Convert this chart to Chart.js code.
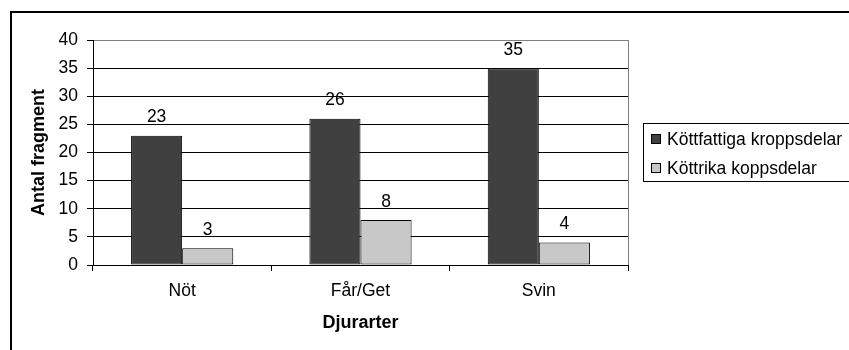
<!DOCTYPE html>
<html>
<head>
<meta charset="utf-8">
<script src="https://cdn.jsdelivr.net/npm/chart.js@4"></script>
<style>
  html, body { margin: 0; padding: 0; background: #fff; }
  #wrap { width: 849px; height: 350px; }
</style>
</head>
<body>
<div id="wrap"><canvas id="c" width="849" height="350"></canvas></div>
<script>
// Djurarter och antal fragment per kroppsdelstyp
const categories = ['Nöt', 'Får/Get', 'Svin'];
const kottfattiga = [23, 26, 35];
const kottrika = [3, 8, 4];
const seriesNames = ['Köttfattiga kroppsdelar', 'Köttrika koppsdelar'];
const yTicks = [0, 5, 10, 15, 20, 25, 30, 35, 40];
const xTitle = 'Djurarter';
const yTitle = 'Antal fragment';

const FONT = '"Liberation Sans", Arial, sans-serif';
const DARK = '#404040';
const LIGHT = '#c8c8c8';

// Outer frame, grey plot border, value labels and the boxed legend
const decorations = {
  id: 'decorations',
  beforeDraw(chart) {
    const ctx = chart.ctx;
    ctx.save();
    ctx.fillStyle = '#fff';
    ctx.fillRect(0, 0, chart.width, chart.height);
    ctx.restore();
  },
  afterDatasetsDraw(chart) {
    const ctx = chart.ctx;
    ctx.save();
    ctx.font = '17.5px ' + FONT;
    ctx.fillStyle = '#000';
    ctx.textAlign = 'center';
    ctx.textBaseline = 'alphabetic';
    chart.data.datasets.forEach((ds, i) => {
      chart.getDatasetMeta(i).data.forEach((bar, j) => {
        ctx.fillText(String(ds.data[j]), bar.x, bar.y - 13.5);
      });
    });
    ctx.restore();
  },
  afterDraw(chart) {
    const ctx = chart.ctx;
    const a = chart.chartArea;
    ctx.save();
    // outer frame
    ctx.strokeStyle = '#000';
    ctx.lineWidth = 2;
    ctx.strokeRect(11, 12, chart.width + 20, chart.height + 20);
    // right plot border
    ctx.lineWidth = 1;
    ctx.strokeStyle = '#808080';
    ctx.beginPath();
    ctx.moveTo(Math.round(a.right) + 0.5, a.top);
    ctx.lineTo(Math.round(a.right) + 0.5, a.bottom);
    ctx.stroke();
    // legend
    const lx = 643.5, ly = 123.5;
    ctx.strokeStyle = '#000';
    ctx.strokeRect(lx, ly, 220, 58);
    ctx.font = '17.5px ' + FONT;
    ctx.textAlign = 'left';
    ctx.textBaseline = 'middle';
    chart.data.datasets.forEach((ds, i) => {
      const cy = 139 + i * 29;
      ctx.fillStyle = ds.backgroundColor;
      ctx.fillRect(651, cy - 5, 10, 10);
      ctx.strokeStyle = '#000';
      ctx.strokeRect(651.5, cy - 4.5, 9, 9);
      ctx.fillStyle = '#000';
      ctx.fillText(ds.label, 667, cy + 1);
    });
    ctx.restore();
  }
};

new Chart(document.getElementById('c'), {
  type: 'bar',
  data: {
    labels: categories,
    datasets: [
      { label: seriesNames[0], data: kottfattiga, backgroundColor: DARK },
      { label: seriesNames[1], data: kottrika, backgroundColor: LIGHT }
    ]
  },
  options: {
    responsive: false,
    devicePixelRatio: 1,
    animation: false,
    layout: { padding: { left: 0, top: 40, right: 221, bottom: 0 } },
    datasets: {
      bar: {
        borderColor: '#000',
        borderWidth: 1,
        borderSkipped: false,
        categoryPercentage: 0.573,
        barPercentage: 1
      }
    },
    plugins: {
      legend: { display: false },
      tooltip: { enabled: false }
    },
    scales: {
      x: {
        afterFit(s) { s.height = 85; },
        grid: {
          offset: true,
          drawOnChartArea: false,
          color: '#000',
          tickLength: 6
        },
        border: { display: true, color: '#000', width: 1 },
        ticks: {
          color: '#000',
          font: { family: FONT, size: 17.5 },
          padding: 10,
          maxRotation: 0
        },
        title: {
          display: true,
          text: xTitle,
          color: '#000',
          font: { family: FONT, size: 18, weight: 'bold' },
          padding: { top: 0, bottom: 16 }
        }
      },
      y: {
        min: 0,
        max: 40,
        afterFit(s) { s.width = 93; },
        afterBuildTicks(s) { s.ticks = yTicks.map(v => ({ value: v })); },
        grid: {
          color: c => (c.tick && c.tick.value === 40 ? '#808080' : '#000'),
          tickColor: '#000',
          tickLength: 6
        },
        border: { display: true, color: '#000', width: 1 },
        ticks: {
          color: '#000',
          font: { family: FONT, size: 17.5 },
          padding: 9
        },
        title: {
          display: true,
          text: yTitle,
          color: '#000',
          font: { family: FONT, size: 18, weight: 'bold' },
          padding: { top: 28, bottom: 0 }
        }
      }
    }
  },
  plugins: [decorations]
});
</script>
</body>
</html>
